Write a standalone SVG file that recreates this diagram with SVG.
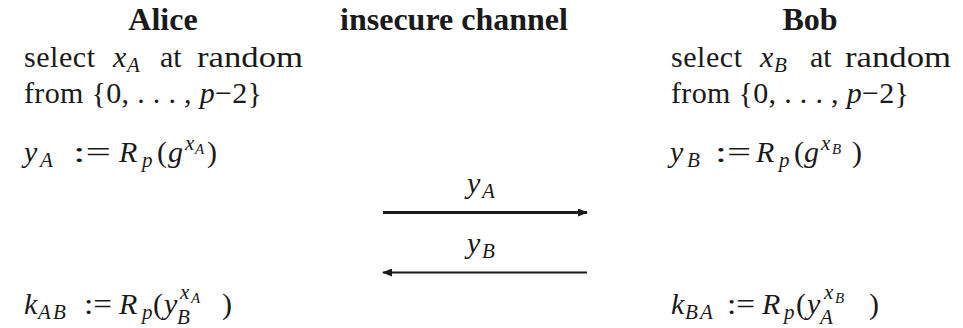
<svg xmlns="http://www.w3.org/2000/svg" width="963" height="328" viewBox="0 0 963 328">
<defs>
<style>
text{font-family:"Liberation Serif","DejaVu Serif",serif;fill:#1a1a1a;font-size:30px}
.h{font-weight:bold;text-anchor:middle;font-size:32px}
.i{font-style:italic}
.s{font-size:21px}
.ss{font-size:15px}
.ln{stroke:#1a1a1a;fill:none}
</style>
<marker id="ah" viewBox="0 0 10 8" refX="9" refY="4" markerWidth="14" markerHeight="8" markerUnits="userSpaceOnUse" orient="auto">
<path d="M0,0 L10,4 L0,8 Z" fill="#1a1a1a"/>
</marker>
</defs>
<rect width="963" height="328" fill="#fff"/>

<g id="alice">
<text class="h" x="163" y="30">Alice</text>
<text x="24" y="67" textLength="71">select</text>
<text class="i" x="113" y="67">x</text><text class="i s" x="127" y="72">A</text>
<text x="160" y="67">at</text>
<text x="197" y="67" textLength="106" lengthAdjust="spacingAndGlyphs">random</text>
<text x="24" y="103" textLength="238">from {0, . . . , <tspan class="i">p</tspan>−2}</text>
<text class="i" x="24" y="162">y</text><text class="i s" x="40" y="167">A</text>
<text x="73" y="162" textLength="38" lengthAdjust="spacingAndGlyphs">:=</text>
<text class="i" x="119" y="162">R</text><text class="i s" x="142" y="167">p</text>
<text x="157" y="162">(</text>
<text class="i" x="168" y="162">g</text><text class="i s" x="185" y="150">x</text><text class="i ss" x="195" y="154">A</text>
<text x="207" y="162">)</text>
<text class="i" x="24" y="314">k</text><text class="i s" x="38" y="319">A</text><text class="i s" x="53" y="319">B</text>
<text x="84" y="314" textLength="28" lengthAdjust="spacingAndGlyphs">:=</text>
<text class="i" x="119" y="314">R</text><text class="i s" x="142" y="319">p</text>
<text x="153" y="314">(</text>
<text class="i" x="164" y="314">y</text><text class="i s" x="177" y="324">B</text><text class="i s" x="180" y="299">x</text><text class="i ss" x="191" y="303">A</text>
<text x="222" y="314">)</text>
</g>

<g id="channel">
<text class="h" x="454" y="30">insecure channel</text>
<text class="i" x="467" y="193">y</text><text class="i s" x="482" y="198">A</text>
<text class="i" x="467" y="253">y</text><text class="i s" x="482" y="258">B</text>
</g>

<g id="bob">
<text class="h" x="810" y="30">Bob</text>
<text x="671" y="67" textLength="71">select</text>
<text class="i" x="760" y="67">x</text><text class="i s" x="774" y="72">B</text>
<text x="810" y="67">at</text>
<text x="845" y="67" textLength="106" lengthAdjust="spacingAndGlyphs">random</text>
<text x="671" y="103" textLength="238">from {0, . . . , <tspan class="i">p</tspan>−2}</text>
<text class="i" x="670" y="162">y</text><text class="i s" x="687" y="167">B</text>
<text x="715" y="162" textLength="36" lengthAdjust="spacingAndGlyphs">:=</text>
<text class="i" x="756" y="162">R</text><text class="i s" x="779" y="167">p</text>
<text x="794" y="162">(</text>
<text class="i" x="804" y="162">g</text><text class="i s" x="821" y="150">x</text><text class="i ss" x="832" y="154">B</text>
<text x="852" y="162">)</text>
<text class="i" x="671" y="314">k</text><text class="i s" x="685" y="319">B</text><text class="i s" x="700" y="319">A</text>
<text x="727" y="314" textLength="28" lengthAdjust="spacingAndGlyphs">:=</text>
<text class="i" x="762" y="314">R</text><text class="i s" x="784" y="319">p</text>
<text x="796" y="314">(</text>
<text class="i" x="807" y="314">y</text><text class="i s" x="820" y="324">A</text><text class="i s" x="824" y="299">x</text><text class="i ss" x="835" y="303">B</text>
<text x="869" y="314">)</text>
</g>

<g id="connectors">
<line class="ln" x1="383" y1="212.5" x2="587" y2="212.5" stroke-width="3" marker-end="url(#ah)"/>
<line class="ln" x1="587" y1="272.5" x2="383" y2="272.5" stroke-width="2" marker-end="url(#ah)"/>
</g>
</svg>
